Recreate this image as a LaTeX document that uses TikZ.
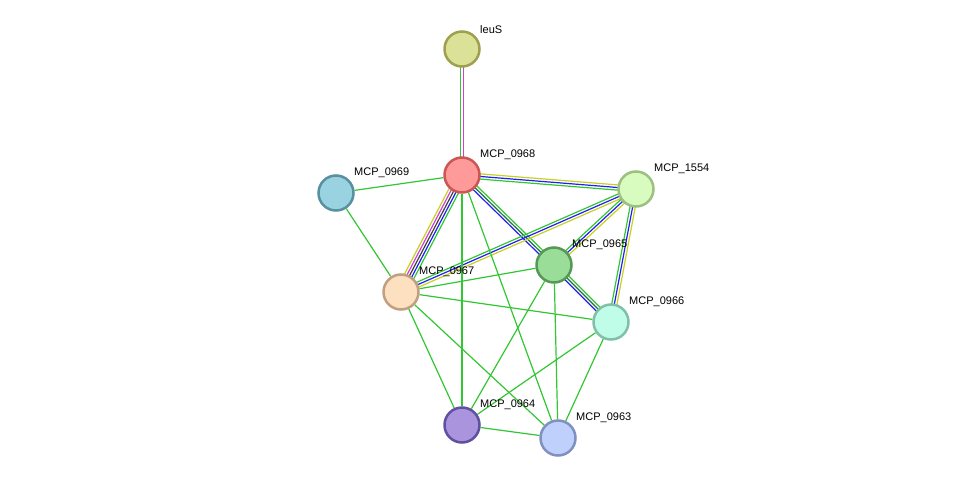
\documentclass[tikz,border=0pt]{standalone}
\usepackage{fontspec}
\setmainfont{Liberation Sans}
\usetikzlibrary{calc}
\usetikzlibrary{backgrounds}
\definecolor{eg}{HTML}{33C633}
\definecolor{eb}{HTML}{2020F0}
\definecolor{ey}{HTML}{C8D020}
\definecolor{em}{HTML}{D040D0}
\definecolor{ek}{HTML}{404040}
\definecolor{ed}{HTML}{207040}
\definecolor{fleuS}{HTML}{DBE196}\definecolor{dleuS}{HTML}{9EA050}
\definecolor{fa}{HTML}{FF9A9A}\definecolor{da}{HTML}{CC5555}
\definecolor{fb}{HTML}{99D2E0}\definecolor{db}{HTML}{5890A0}
\definecolor{fc}{HTML}{D8FCC0}\definecolor{dc}{HTML}{9CC080}
\definecolor{fd}{HTML}{99DD99}\definecolor{dd}{HTML}{559955}
\definecolor{fe}{HTML}{FDE0C0}\definecolor{de}{HTML}{C0A080}
\definecolor{ff}{HTML}{C0FDE8}\definecolor{df}{HTML}{80C0A8}
\definecolor{fg}{HTML}{A994DD}\definecolor{dg}{HTML}{6050A0}
\definecolor{fh}{HTML}{C0D0FD}\definecolor{dh}{HTML}{8090C0}
\tikzset{
	prot/.style 2 args={circle,draw=#2,fill=#1,line width=2.5pt,minimum size=35pt,inner sep=0pt},
	lbl/.style={anchor=south west,inner sep=0pt,font=\fontsize{11}{13}\selectfont},
	edge/.style={line width=1.2pt}
}
% parallel coloured edges between two nodes
\newcommand{\multiedge}[3]{%
	\foreach \c [count=\i] in {#3} {\xdef\nedges{\i}}
	\foreach \c [count=\i] in {#3} {
		\pgfmathsetmacro{\off}{(\i-(\nedges+1)/2)*2.6}
		\draw[edge,\c] ($(#1)!\off pt!90:(#2)$) -- ($(#2)!\off pt!-90:(#1)$);
	}
}
\begin{document}
\begin{tikzpicture}[x=1pt,y=-1pt]
	\useasboundingbox (0,0) rectangle (976,484);
	\node[prot={fleuS}{dleuS}] (leuS) at (462,49) {};
	\node[prot={fa}{da}] (m0968) at (462,175) {};
	\node[prot={fb}{db}] (m0969) at (336,193) {};
	\node[prot={fc}{dc}] (m1554) at (636,189) {};
	\node[prot={fd}{dd}] (m0965) at (554,265) {};
	\node[prot={fe}{de}] (m0967) at (401,292) {};
	\node[prot={ff}{df}] (m0966) at (611,322) {};
	\node[prot={fg}{dg}] (m0964) at (462,425) {};
	\node[prot={fh}{dh}] (m0963) at (558,438) {};
	\node[lbl] at ($(leuS)+(18,-15)$) {leuS};
	\node[lbl] at ($(m0968)+(18,-15)$) {MCP\_0968};
	\node[lbl] at ($(m0969)+(18,-15)$) {MCP\_0969};
	\node[lbl] at ($(m1554)+(18,-15)$) {MCP\_1554};
	\node[lbl] at ($(m0965)+(18,-15)$) {MCP\_0965};
	\node[lbl] at ($(m0967)+(18,-15)$) {MCP\_0967};
	\node[lbl] at ($(m0966)+(18,-15)$) {MCP\_0966};
	\node[lbl] at ($(m0964)+(18,-15)$) {MCP\_0964};
	\node[lbl] at ($(m0963)+(18,-15)$) {MCP\_0963};
	\begin{scope}[on background layer]
		\multiedge{leuS}{m0968}{eg,em}
		\multiedge{m0968}{m1554}{eg,eb,ey}
		\multiedge{m0968}{m0967}{ey,em,ek,eb,eg}
		\multiedge{m0968}{m0965}{eb,ed,eg}
		\multiedge{m0965}{m0966}{eb,ed,eg}
		\multiedge{m1554}{m0967}{eg,eb,ey}
		\multiedge{m1554}{m0965}{eg,eb,ey}
		\multiedge{m1554}{m0966}{eg,eb,ey}
		\foreach \a/\b in {m0968/m0969,m0968/m0964,m0968/m0963,m0969/m0967,m0967/m0965,
			m0967/m0966,m0967/m0964,m0967/m0963,m0965/m0964,m0965/m0963,
			m0966/m0964,m0966/m0963,m0964/m0963}
			\draw[edge,eg] (\a) -- (\b);
	\end{scope}
\end{tikzpicture}
\end{document}
